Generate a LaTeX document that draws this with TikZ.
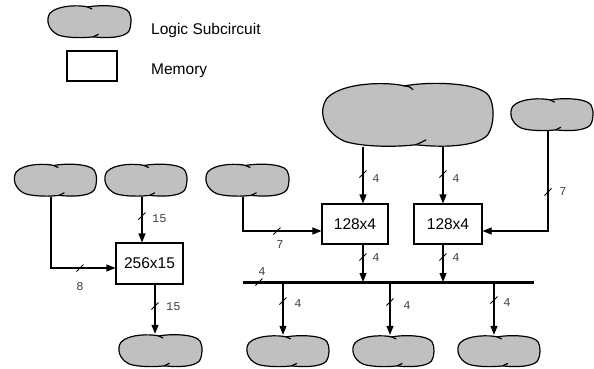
\documentclass[tikz,border=0pt]{standalone}
\usepackage{fontspec}
\setmainfont{Liberation Sans}
\newfontfamily\labelmono{Liberation Mono}
\usetikzlibrary{arrows.meta,calc}
\definecolor{blobgray}{RGB}{192,192,192}
\tikzset{
  blobbox/.style={draw=none, inner sep=0pt, rectangle},
  blobstyle/.style={draw=black, fill=blobgray, line width=1.2pt, line join=round},
  blobtick/.style={draw=black, line width=1.2pt, line cap=round},
  blob/.pic={
    \path[blobstyle] (-0.03,-0.88)
      .. controls (-0.2,-1.0) and (-0.75,-1.02) .. (-0.93,-0.5)
      .. controls (-1.04,-0.1) and (-0.97,0.55) .. (-0.72,0.83)
      .. controls (-0.5,1.01) and (-0.1,1.0) .. (0.1,0.93)
      .. controls (0.4,1.02) and (0.82,1.0) .. (0.94,0.62)
      .. controls (1.02,0.3) and (1.02,-0.3) .. (0.95,-0.58)
      .. controls (0.84,-1.0) and (0.25,-1.02) .. (-0.03,-0.88) -- cycle;
    \path[blobtick] (-0.03,-0.88) .. controls (0.03,-0.86) .. (0.07,-0.76);
    \path[blobtick] (0.1,0.93) .. controls (0.15,0.88) .. (0.22,0.78);
  },
  slash/.pic={\draw[line width=0.9pt] (-3.5,3.5) -- (3.5,-3.5);},
  membox/.style={draw=black, line width=1.1pt, fill=white, inner sep=0pt,
    font=\fontsize{15.5}{18}\selectfont},
  conn/.style={draw=black, line width=1.1pt},
  arr/.style={conn, -{Triangle[length=9pt,width=7pt]}},
  buslabel/.style={font=\labelmono\fontsize{12}{14}\selectfont, text=black!75, inner sep=0pt},
  legendtext/.style={font=\fontsize{15.5}{18}\selectfont, anchor=base west, inner sep=0pt},
}
\newcommand\blobnode[5]{%
  \node[blobbox, minimum width=#4, minimum height=#5] (#1) at (#2,#3) {};
  \pic[xscale=#4/2, yscale=#5/2] at (#1.center) {blob};}
\begin{document}
\begin{tikzpicture}[x=1pt, y=-1pt]
\useasboundingbox (0,0) rectangle (594,368);

% legend
\blobnode{lg}{89}{21.5}{84}{33}
\node[legendtext] (lgt) at (151,34) {Logic Subcircuit};
\node[membox, minimum width=50, minimum height=30] (lm) at (92,66) {};
\node[legendtext] (lmt) at (151,74) {Memory};

% blobs
\blobnode{b1}{55}{180}{83}{33}
\blobnode{b2}{145.5}{180}{83}{33}
\blobnode{b3}{247}{180}{84}{33}
\blobnode{big}{407}{114.5}{172}{65}
\blobnode{br}{551.5}{114.5}{83}{33}
\blobnode{bb1}{160}{350.5}{84}{33}
\blobnode{bb2}{287.5}{351}{83}{32}
\blobnode{bb3}{393}{351}{82}{32}
\blobnode{bb4}{498.5}{351}{83}{32}

% memories
\node[membox, minimum width=67, minimum height=41] (m1) at (149.5,263.5) {256x15};
\node[membox, minimum width=66, minimum height=40] (m2) at (355,224) {128x4};
\node[membox, minimum width=68, minimum height=40] (m3) at (448,224) {128x4};

% bus
\coordinate (busL) at (243,282);
\coordinate (busR) at (534,282);
\draw[line width=3pt] (busL) -- (busR);

% connector start points
\coordinate (b1o) at ([xshift=-4pt]b1.south);
\coordinate (b2o) at ([xshift=-3.5pt]b2.south);
\coordinate (m1o) at ([xshift=5.5pt]m1.south);
\coordinate (b3o) at ([xshift=-4pt]b3.south);
\coordinate (bigA) at ([xshift=8pt]big.south -| m2.north);
\coordinate (bigB) at ([xshift=-5pt]big.south -| m3.north);
\coordinate (bro) at ([xshift=-3.5pt]br.south);
\coordinate (m2o) at ([xshift=8pt]m2.south);
\coordinate (m3o) at ([xshift=-5pt]m3.south);
\coordinate (bb2i) at ([xshift=-4.5pt]bb2.north);
\coordinate (bb3i) at ([xshift=-3pt]bb3.north);
\coordinate (bb4i) at ([xshift=-4.5pt]bb4.north);

% connectors into 256x15
\draw[arr] (b1o) |- ([yshift=-4.5pt]m1.west);
\pic at (80,268) {slash};
\node[buslabel] (l8) at (80,287) {8};
\draw[arr] (b2o) -- (m1.north -| b2o);
\pic at (142,216) {slash};
\node[buslabel, anchor=west] (l15a) at (152,219) {15};
\draw[arr] (m1o) -- (bb1.north -| m1o);
\pic at (155,306) {slash};
\node[buslabel, anchor=west] (l15b) at (166,307) {15};

% connectors into 128x4 (left)
\draw[arr] (b3o) |- ([yshift=-7pt]m2.west);
\pic at (277,231) {slash};
\node[buslabel] (l7a) at (280,245) {7};
\draw[arr] (bigA) -- (m2.north -| bigA);
\pic at (363,174) {slash};
\node[buslabel] (l4a) at (376,179) {4};

% connectors into 128x4 (right)
\draw[arr] (bigB) -- (m3.north -| bigB);
\pic at (443,174) {slash};
\node[buslabel] (l4b) at (456,179) {4};
\draw[arr] (bro) |- ([yshift=-7pt]m3.east);
\pic at (548,192) {slash};
\node[buslabel] (l7b) at (563,192) {7};

% memories to bus
\draw[arr] (m2o) -- (busL -| m2o);
\pic at (363,257) {slash};
\node[buslabel] (l4c) at (376,258) {4};
\draw[arr] (m3o) -- (busL -| m3o);
\pic at (443,257) {slash};
\node[buslabel] (l4d) at (456,258) {4};

% bus label
\pic at (259,282) {slash};
\node[buslabel] (l4e) at (262,272) {4};

% bus to consumers
\draw[arr] (busL -| bb2i) -- (bb2i);
\pic at (283,301) {slash};
\node[buslabel] (l4f) at (298,304) {4};
\draw[arr] (busL -| bb3i) -- (bb3i);
\pic at (390,302) {slash};
\node[buslabel] (l4g) at (407,306) {4};
\draw[arr] (busL -| bb4i) -- (bb4i);
\pic at (494,300) {slash};
\node[buslabel] (l4h) at (507,303) {4};
\end{tikzpicture}
\end{document}
